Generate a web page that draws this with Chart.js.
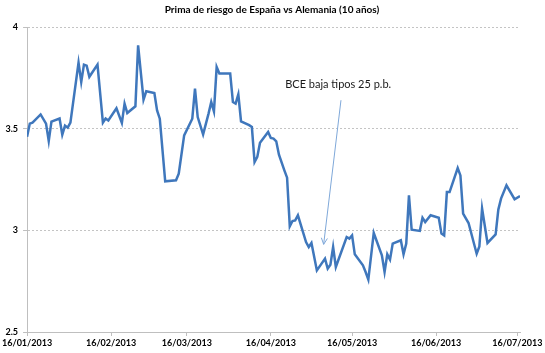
<!DOCTYPE html>
<html>
<head>
<meta charset="utf-8">
<script src="https://cdn.jsdelivr.net/npm/chart.js@4.4.1/dist/chart.umd.min.js"></script>
<style>
  body { margin: 0; background: #fff; }
</style>
</head>
<body>
<canvas id="myChart" width="545" height="353"></canvas>
<script>
// prima de riesgo (dd/mm/aaaa)
const chartTitle = 'Prima de riesgo de España vs Alemania (10 años)'
const dates = [
  '16/01/2013', '17/01/2013', '18/01/2013', '21/01/2013', '23/01/2013', '24/01/2013', '25/01/2013',
  '28/01/2013', '29/01/2013', '30/01/2013', '31/01/2013', '01/02/2013', '04/02/2013', '05/02/2013',
  '06/02/2013', '07/02/2013', '08/02/2013', '11/02/2013', '13/02/2013', '14/02/2013', '15/02/2013',
  '18/02/2013', '20/02/2013', '21/02/2013', '22/02/2013', '25/02/2013', '26/02/2013', '28/02/2013',
  '01/03/2013', '04/03/2013', '05/03/2013', '06/03/2013', '08/03/2013', '12/03/2013', '13/03/2013',
  '15/03/2013', '18/03/2013', '19/03/2013', '20/03/2013', '22/03/2013', '24/03/2013', '25/03/2013',
  '26/03/2013', '27/03/2013', '28/03/2013', '01/04/2013', '02/04/2013', '03/04/2013', '04/04/2013',
  '05/04/2013', '08/04/2013', '09/04/2013', '10/04/2013', '11/04/2013', '12/04/2013', '15/04/2013',
  '16/04/2013', '17/04/2013', '18/04/2013', '19/04/2013', '21/04/2013', '22/04/2013', '23/04/2013',
  '24/04/2013', '25/04/2013', '26/04/2013', '29/04/2013', '30/04/2013', '01/05/2013', '03/05/2013',
  '06/05/2013', '07/05/2013', '08/05/2013', '09/05/2013', '10/05/2013', '14/05/2013', '15/05/2013',
  '16/05/2013', '17/05/2013', '20/05/2013', '21/05/2013', '22/05/2013', '24/05/2013', '27/05/2013',
  '28/05/2013', '29/05/2013', '30/05/2013', '31/05/2013', '03/06/2013', '04/06/2013', '05/06/2013',
  '06/06/2013', '07/06/2013', '10/06/2013', '11/06/2013', '12/06/2013', '14/06/2013', '17/06/2013',
  '18/06/2013', '19/06/2013', '20/06/2013', '21/06/2013', '24/06/2013', '25/06/2013', '26/06/2013',
  '28/06/2013', '01/07/2013', '02/07/2013', '03/07/2013', '05/07/2013', '08/07/2013', '09/07/2013',
  '10/07/2013', '12/07/2013', '15/07/2013', '17/07/2013'
]
const prima = [
  3.46, 3.525, 3.53, 3.57, 3.525, 3.44, 3.535,
  3.55, 3.47, 3.515, 3.505, 3.53, 3.825, 3.73,
  3.815, 3.81, 3.755, 3.815, 3.53, 3.55, 3.54,
  3.60, 3.528, 3.623, 3.577, 3.61, 3.91, 3.643,
  3.684, 3.675, 3.59, 3.549, 3.241, 3.246, 3.279,
  3.467, 3.549, 3.697, 3.557, 3.472, 3.574, 3.631,
  3.585, 3.803, 3.771, 3.771, 3.631, 3.623, 3.669,
  3.536, 3.517, 3.508, 3.336, 3.361, 3.431, 3.484,
  3.454, 3.451, 3.438, 3.372, 3.295, 3.259, 3.02,
  3.046, 3.049, 3.074, 2.942, 2.918, 2.938, 2.803,
  2.861, 2.812, 2.831, 2.918, 2.82, 2.967, 2.959,
  2.975, 2.882, 2.828, 2.795, 2.758, 2.987, 2.877,
  2.795, 2.882, 2.856, 2.935, 2.951, 2.882, 2.935,
  3.172, 3.003, 2.997, 3.062, 3.041, 3.074, 3.062,
  2.984, 2.975, 3.188, 3.188, 3.306, 3.27, 3.082,
  3.036, 2.885, 2.921, 3.107, 2.938, 2.98, 3.102,
  3.156, 3.221, 3.153, 3.169
]
const tickLabels = ['16/01/2013', '16/02/2013', '16/03/2013', '16/04/2013', '16/05/2013', '16/06/2013', '16/07/2013']
const lastDate = '17/07/2013'
const yTicks = [2.5, 3, 3.5, 4]
const noteText = 'BCE baja tipos 25 p.b.'

// dias desde el primer dato
const toDay = s => {
  const p = s.split('/')
  const start = dates[0].split('/')
  return (Date.UTC(+p[2], p[1] - 1, +p[0]) - Date.UTC(+start[2], start[1] - 1, +start[0])) / 86400000
}

const points = dates.map((d, i) => ({ x: toDay(d), y: prima[i] }))
const tickDays = tickLabels.map(toDay)

// titulo y flecha con texto
const extras = {
  id: 'extras',
  afterDraw(chart) {
    const ctx = chart.ctx
    const xs = chart.scales.x
    const ys = chart.scales.y
    ctx.save()
    ctx.fillStyle = '#000'
    ctx.font = 'bold 10px Lato'
    ctx.textAlign = 'center'
    ctx.textBaseline = 'middle'
    ctx.fillText(chartTitle, 272, 10)

    ctx.font = '11px Lato'
    ctx.textAlign = 'left'
    ctx.fillStyle = '#1a1a1a'
    ctx.fillText(noteText, xs.getPixelForValue(95.3), ys.getPixelForValue(3.718))

    const x1 = xs.getPixelForValue(115.9), y1 = ys.getPixelForValue(3.64)
    const x2 = xs.getPixelForValue(109.5), y2 = ys.getPixelForValue(2.931)
    ctx.strokeStyle = '#7fa8d9'
    ctx.lineWidth = 1
    ctx.beginPath()
    ctx.moveTo(x1, y1)
    ctx.lineTo(x2, y2)
    const a = Math.atan2(y2 - y1, x2 - x1)
    ctx.moveTo(x2 - 7 * Math.cos(a - 0.45), y2 - 7 * Math.sin(a - 0.45))
    ctx.lineTo(x2, y2)
    ctx.lineTo(x2 - 7 * Math.cos(a + 0.45), y2 - 7 * Math.sin(a + 0.45))
    ctx.stroke()
    ctx.restore()
  }
}

var ctx = document.getElementById('myChart')
var myLineChart = new Chart(ctx, {
  type: 'line',
  data: {
    datasets: [
      {
        data: points,
        borderColor: '#3f77bc',
        borderWidth: 2.5,
        pointRadius: 0,
        tension: 0,
        fill: false
      }
    ]
  },
  options: {
    responsive: false,
    animation: false,
    devicePixelRatio: 1,
    layout: { padding: { top: 27, right: 25, left: 0, bottom: 0 } },
    plugins: {
      legend: { display: false },
      title: { display: false },
      tooltip: { enabled: false }
    },
    scales: {
      x: {
        type: 'linear',
        min: 0,
        max: toDay(lastDate),
        afterBuildTicks: scale => {
          scale.ticks = tickDays.map(v => ({ value: v }))
        },
        afterFit: scale => {
          scale.height = 21
        },
        ticks: {
          autoSkip: false,
          maxRotation: 0,
          padding: 2,
          color: '#000',
          font: { family: 'Lato', size: 9, weight: 'bold' },
          callback: value => tickLabels[tickDays.indexOf(value)]
        },
        grid: {
          drawOnChartArea: false,
          drawTicks: true,
          tickLength: 4,
          tickColor: '#bfbfbf'
        },
        border: { display: true, color: '#bfbfbf', width: 1 }
      },
      y: {
        min: yTicks[0],
        max: yTicks[yTicks.length - 1],
        afterBuildTicks: scale => {
          scale.ticks = yTicks.map(v => ({ value: v }))
        },
        afterFit: scale => {
          scale.width = 27
        },
        ticks: {
          padding: 5,
          color: '#000',
          font: { family: 'Lato', size: 9, weight: 'bold' },
          callback: value => String(value)
        },
        grid: {
          color: '#c4c4c4',
          tickColor: '#bfbfbf',
          tickLength: 4
        },
        border: { display: true, color: '#bfbfbf', width: 1, dash: [2, 2] }
      }
    }
  },
  plugins: [extras]
})
</script>
</body>
</html>
